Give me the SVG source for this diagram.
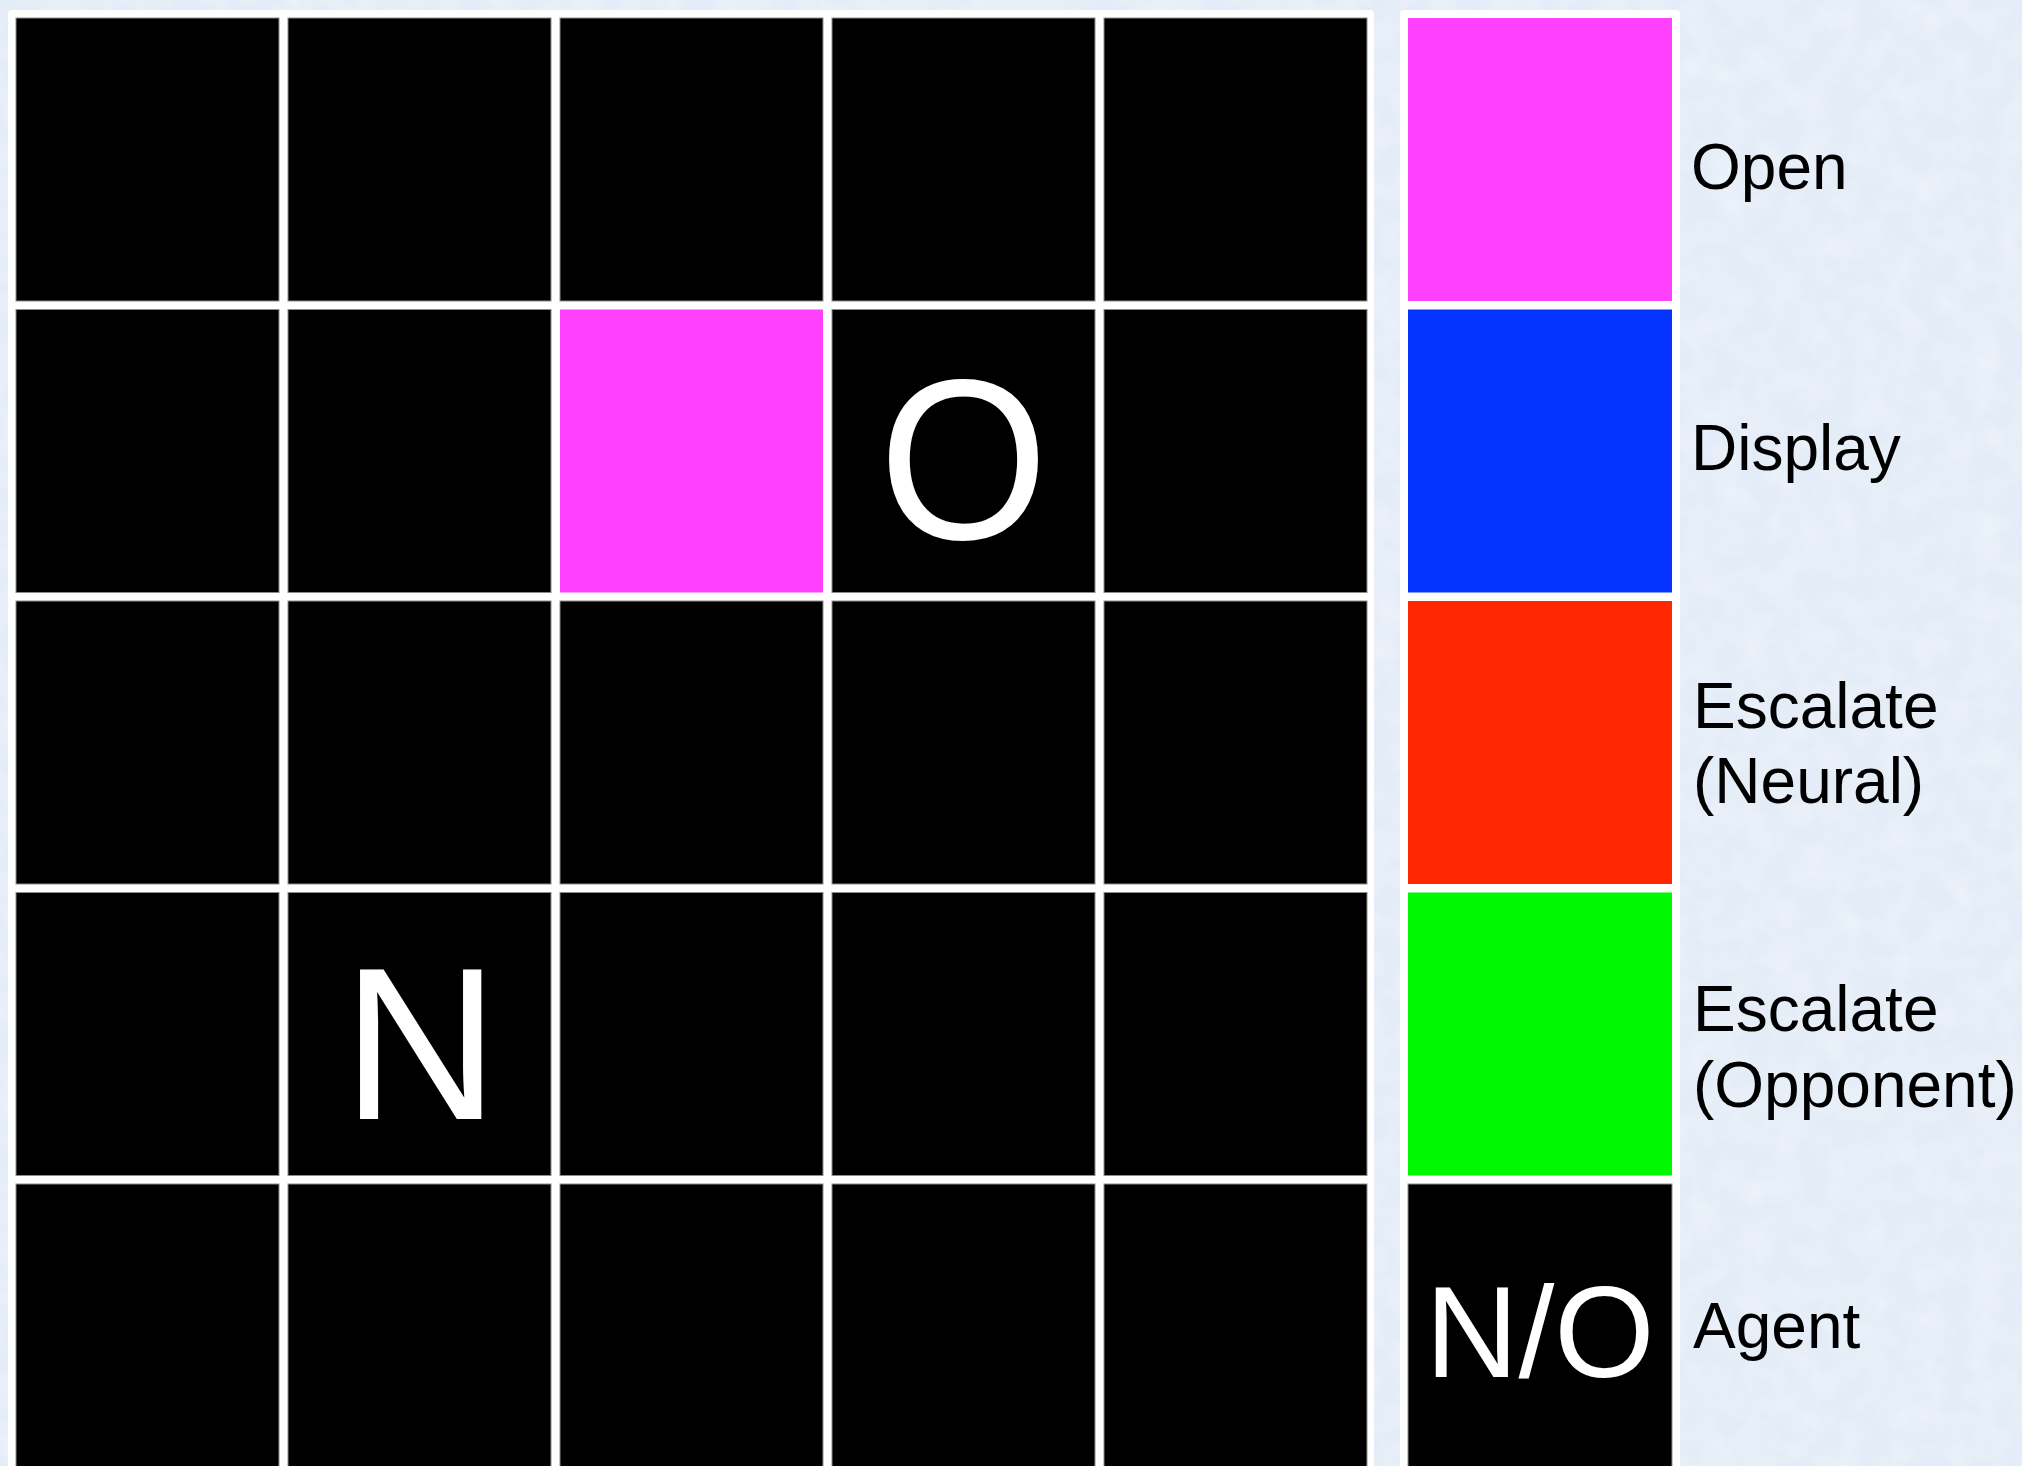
<svg xmlns="http://www.w3.org/2000/svg" width="2022" height="1466" viewBox="0 0 2022 1466">
<defs>
<filter id="tex" x="0" y="0" width="100%" height="100%">
<feTurbulence type="fractalNoise" baseFrequency="0.035" numOctaves="3" seed="4" result="n"/>
<feColorMatrix in="n" type="matrix" values="0 0 0 0 1  0 0 0 0 1  0 0 0 0 1  0 0 0 0.55 -0.18" result="w"/>
<feComposite in="w" in2="SourceGraphic" operator="over"/>
</filter>
<style>
.panel{fill:#ffffff}
.cell{stroke:#8c8c8c;stroke-width:1}
.blk{fill:#000000}
.mag{fill:#ff40ff}
.blu{fill:#0433ff}
.red{fill:#ff2600}
.grn{fill:#00f900}
.lbl{font-family:"Liberation Sans",Arial,Helvetica,sans-serif;font-size:64px;fill:#000000}
.big{font-family:"Liberation Sans",Arial,Helvetica,sans-serif;fill:#ffffff;text-anchor:middle}
</style>
</defs>
<rect x="0" y="0" width="2022" height="1466" fill="#e3ecf7" filter="url(#tex)"/>
<rect class="panel" x="8" y="10" width="1366" height="1470" rx="4"/>
<rect class="panel" x="1400" y="10" width="280" height="1470" rx="4"/>

<g id="grid">
<g id="r1c1"><rect class="cell blk" x="16" y="18" width="263" height="283"/></g>
<g id="r1c2"><rect class="cell blk" x="288" y="18" width="263" height="283"/></g>
<g id="r1c3"><rect class="cell blk" x="560" y="18" width="263" height="283"/></g>
<g id="r1c4"><rect class="cell blk" x="832" y="18" width="263" height="283"/></g>
<g id="r1c5"><rect class="cell blk" x="1104" y="18" width="263" height="283"/></g>

<g id="r2c1"><rect class="cell blk" x="16" y="309.5" width="263" height="283"/></g>
<g id="r2c2"><rect class="cell blk" x="288" y="309.5" width="263" height="283"/></g>
<g id="r2c3"><rect class="mag" x="560" y="309.5" width="263" height="283"/></g>
<g id="r2c4"><rect class="cell blk" x="832" y="309.5" width="263" height="283"/><text class="big" x="963.5" y="539" font-size="218" transform="translate(0 539) scale(1 1.05) translate(0 -539)">O</text></g>
<g id="r2c5"><rect class="cell blk" x="1104" y="309.5" width="263" height="283"/></g>

<g id="r3c1"><rect class="cell blk" x="16" y="601" width="263" height="283"/></g>
<g id="r3c2"><rect class="cell blk" x="288" y="601" width="263" height="283"/></g>
<g id="r3c3"><rect class="cell blk" x="560" y="601" width="263" height="283"/></g>
<g id="r3c4"><rect class="cell blk" x="832" y="601" width="263" height="283"/></g>
<g id="r3c5"><rect class="cell blk" x="1104" y="601" width="263" height="283"/></g>

<g id="r4c1"><rect class="cell blk" x="16" y="892.5" width="263" height="283"/></g>
<g id="r4c2"><rect class="cell blk" x="288" y="892.5" width="263" height="283"/><text class="big" x="420.5" y="1119" font-size="217">N</text></g>
<g id="r4c3"><rect class="cell blk" x="560" y="892.5" width="263" height="283"/></g>
<g id="r4c4"><rect class="cell blk" x="832" y="892.5" width="263" height="283"/></g>
<g id="r4c5"><rect class="cell blk" x="1104" y="892.5" width="263" height="283"/></g>

<g id="r5c1"><rect class="cell blk" x="16" y="1184" width="263" height="300"/></g>
<g id="r5c2"><rect class="cell blk" x="288" y="1184" width="263" height="300"/></g>
<g id="r5c3"><rect class="cell blk" x="560" y="1184" width="263" height="300"/></g>
<g id="r5c4"><rect class="cell blk" x="832" y="1184" width="263" height="300"/></g>
<g id="r5c5"><rect class="cell blk" x="1104" y="1184" width="263" height="300"/></g>
</g>

<g id="legend">
<g id="leg-open"><rect class="mag" x="1408" y="18" width="264" height="283"/><text class="lbl" x="1691" y="189">Open</text></g>
<g id="leg-display"><rect class="blu" x="1408" y="309.5" width="264" height="283"/><text class="lbl" x="1691" y="470">Display</text></g>
<g id="leg-neural"><rect class="red" x="1408" y="601" width="264" height="283"/><text class="lbl" x="1693" y="728">Escalate</text><text class="lbl" x="1693" y="803">(Neural)</text></g>
<g id="leg-opponent"><rect class="grn" x="1408" y="892.5" width="264" height="283"/><text class="lbl" x="1693" y="1031">Escalate</text><text class="lbl" x="1693" y="1107">(Opponent)</text></g>
<g id="leg-agent"><rect class="cell blk" x="1408" y="1184" width="264" height="300"/><text class="big" x="1540" y="1377" font-size="129">N/O</text><text class="lbl" x="1693" y="1348">Agent</text></g>
</g>

<g id="connectors"/>
</svg>
